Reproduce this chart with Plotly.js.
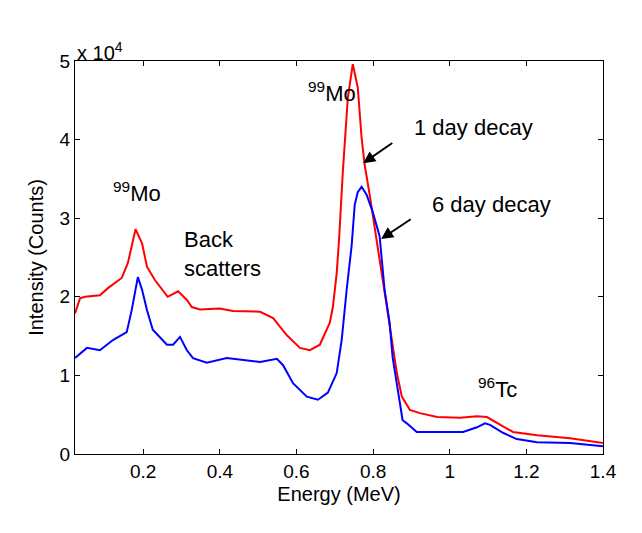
<!DOCTYPE html>
<html>
<head>
<meta charset="utf-8">
<script src="https://cdn.plot.ly/plotly-3.0.1.min.js"></script>
<style>html,body{margin:0;padding:0;background:#fff;}#chart{width:642px;height:533px;}</style>
</head>
<body>
<div id="chart"></div>
<script>
// Energy (MeV) and counts
const energy1day = [0.022,0.035,0.048,0.087,0.108,0.144,0.160,0.170,0.180,0.197,0.210,0.231,0.264,0.291,0.314,0.327,0.348,0.400,0.434,0.505,0.539,0.575,0.609,0.635,0.661,0.687,0.695,0.705,0.711,0.721,0.734,0.747,0.760,0.770,0.778,0.791,0.804,0.817,0.836,0.849,0.862,0.875,0.896,0.922,0.967,1.027,1.071,1.097,1.131,1.165,1.228,1.314,1.400];
const counts1day = [17900,19800,20000,20200,21100,22400,24300,26600,28600,26800,23800,22100,20000,20700,19600,18700,18400,18500,18200,18100,17300,15100,13500,13200,13900,16700,18700,23000,27200,35900,45300,49600,46600,40200,36800,33000,29100,24700,18700,14500,10300,7300,5600,5200,4700,4600,4800,4700,3700,2800,2400,2000,1400];
const energy6day = [0.022,0.053,0.087,0.121,0.157,0.170,0.186,0.197,0.210,0.225,0.262,0.278,0.296,0.314,0.330,0.366,0.418,0.505,0.549,0.565,0.591,0.627,0.656,0.682,0.705,0.718,0.731,0.744,0.752,0.760,0.770,0.783,0.799,0.817,0.830,0.843,0.851,0.864,0.877,0.888,0.914,0.967,1.035,1.071,1.092,1.105,1.139,1.175,1.228,1.314,1.400];
const counts6day = [12200,13500,13200,14500,15500,18300,22500,20900,18300,15800,13900,13900,14900,13200,12200,11600,12200,11700,12100,11300,9000,7300,6900,7800,10300,14500,20900,26500,31700,33300,34000,33000,30800,27700,20900,16700,12300,8100,4300,3900,2800,2800,2800,3400,3900,3700,2700,1900,1500,1400,1000];
const xTicks = [0.2,0.4,0.6,0.8,1,1.2,1.4];
const xTickText = ['0.2','0.4','0.6','0.8','1','1.2','1.4'];
const yTicks = [0,10000,20000,30000,40000,50000];
const yTickText = ['0','1','2','3','4','5'];

const F = 'Liberation Sans, Arial, Helvetica, sans-serif';
const traces = [
  {x: energy1day, y: counts1day, type:'scatter', mode:'lines', name:'1 day decay', line:{color:'#ff0000', width:2}},
  {x: energy6day, y: counts6day, type:'scatter', mode:'lines', name:'6 day decay', line:{color:'#0000ff', width:2}}
];
const axisCommon = {showgrid:false, zeroline:false, showline:true, linecolor:'#000', linewidth:1,
  mirror:'ticks', ticks:'inside', ticklen:5, tickwidth:1, tickcolor:'#000',
  tickfont:{family:F, size:19, color:'#000'}};
const AF = {family:F, size:22, color:'#000'};
const layout = {
  width:642, height:533,
  margin:{l:75, r:39, t:61, b:79},
  paper_bgcolor:'#fff', plot_bgcolor:'#fff',
  showlegend:false,
  font:{family:F, color:'#000'},
  xaxis: Object.assign({}, axisCommon, {range:[0.022,1.4], tickvals:xTicks, ticktext:xTickText,
    title:{text:'Energy (MeV)', font:{family:F, size:20, color:'#000'}, standoff:6}}),
  yaxis: Object.assign({}, axisCommon, {range:[0,50000], tickvals:yTicks, ticktext:yTickText,
    title:{text:'Intensity (Counts)', font:{family:F, size:20, color:'#000'}, standoff:10}}),
  annotations:[
    {xref:'paper', yref:'paper', x:0, y:1, xanchor:'left', yanchor:'bottom', yshift:-5, showarrow:false,
      text:'x 10<sup>4</sup>', font:{family:F, size:20, color:'#000'}},
    {x:0.184, y:33300, showarrow:false, text:'<sup>99</sup>Mo', font:AF},
    {x:0.301, y:25450, showarrow:false, xanchor:'left', align:'left', text:'Back<br>scatters', font:AF},
    {x:0.692, y:46000, showarrow:false, text:'<sup>99</sup>Mo', font:AF},
    {x:1.061, y:41600, showarrow:false, text:'1 day decay', font:AF},
    {x:1.110, y:31700, showarrow:false, text:'6 day decay', font:AF},
    {x:1.124, y:8400, showarrow:false, text:'<sup>96</sup>Tc', font:AF},
    {x:0.774, y:37000, ax:0.854, ay:39700, axref:'x', ayref:'y', showarrow:true, arrowhead:2, arrowsize:1.2, arrowwidth:2, arrowcolor:'#000', text:''},
    {x:0.821, y:27350, ax:0.902, ay:30000, axref:'x', ayref:'y', showarrow:true, arrowhead:2, arrowsize:1.2, arrowwidth:2, arrowcolor:'#000', text:''}
  ]
};
Plotly.newPlot('chart', traces, layout, {displayModeBar:false, staticPlot:true});
</script>
</body>
</html>
